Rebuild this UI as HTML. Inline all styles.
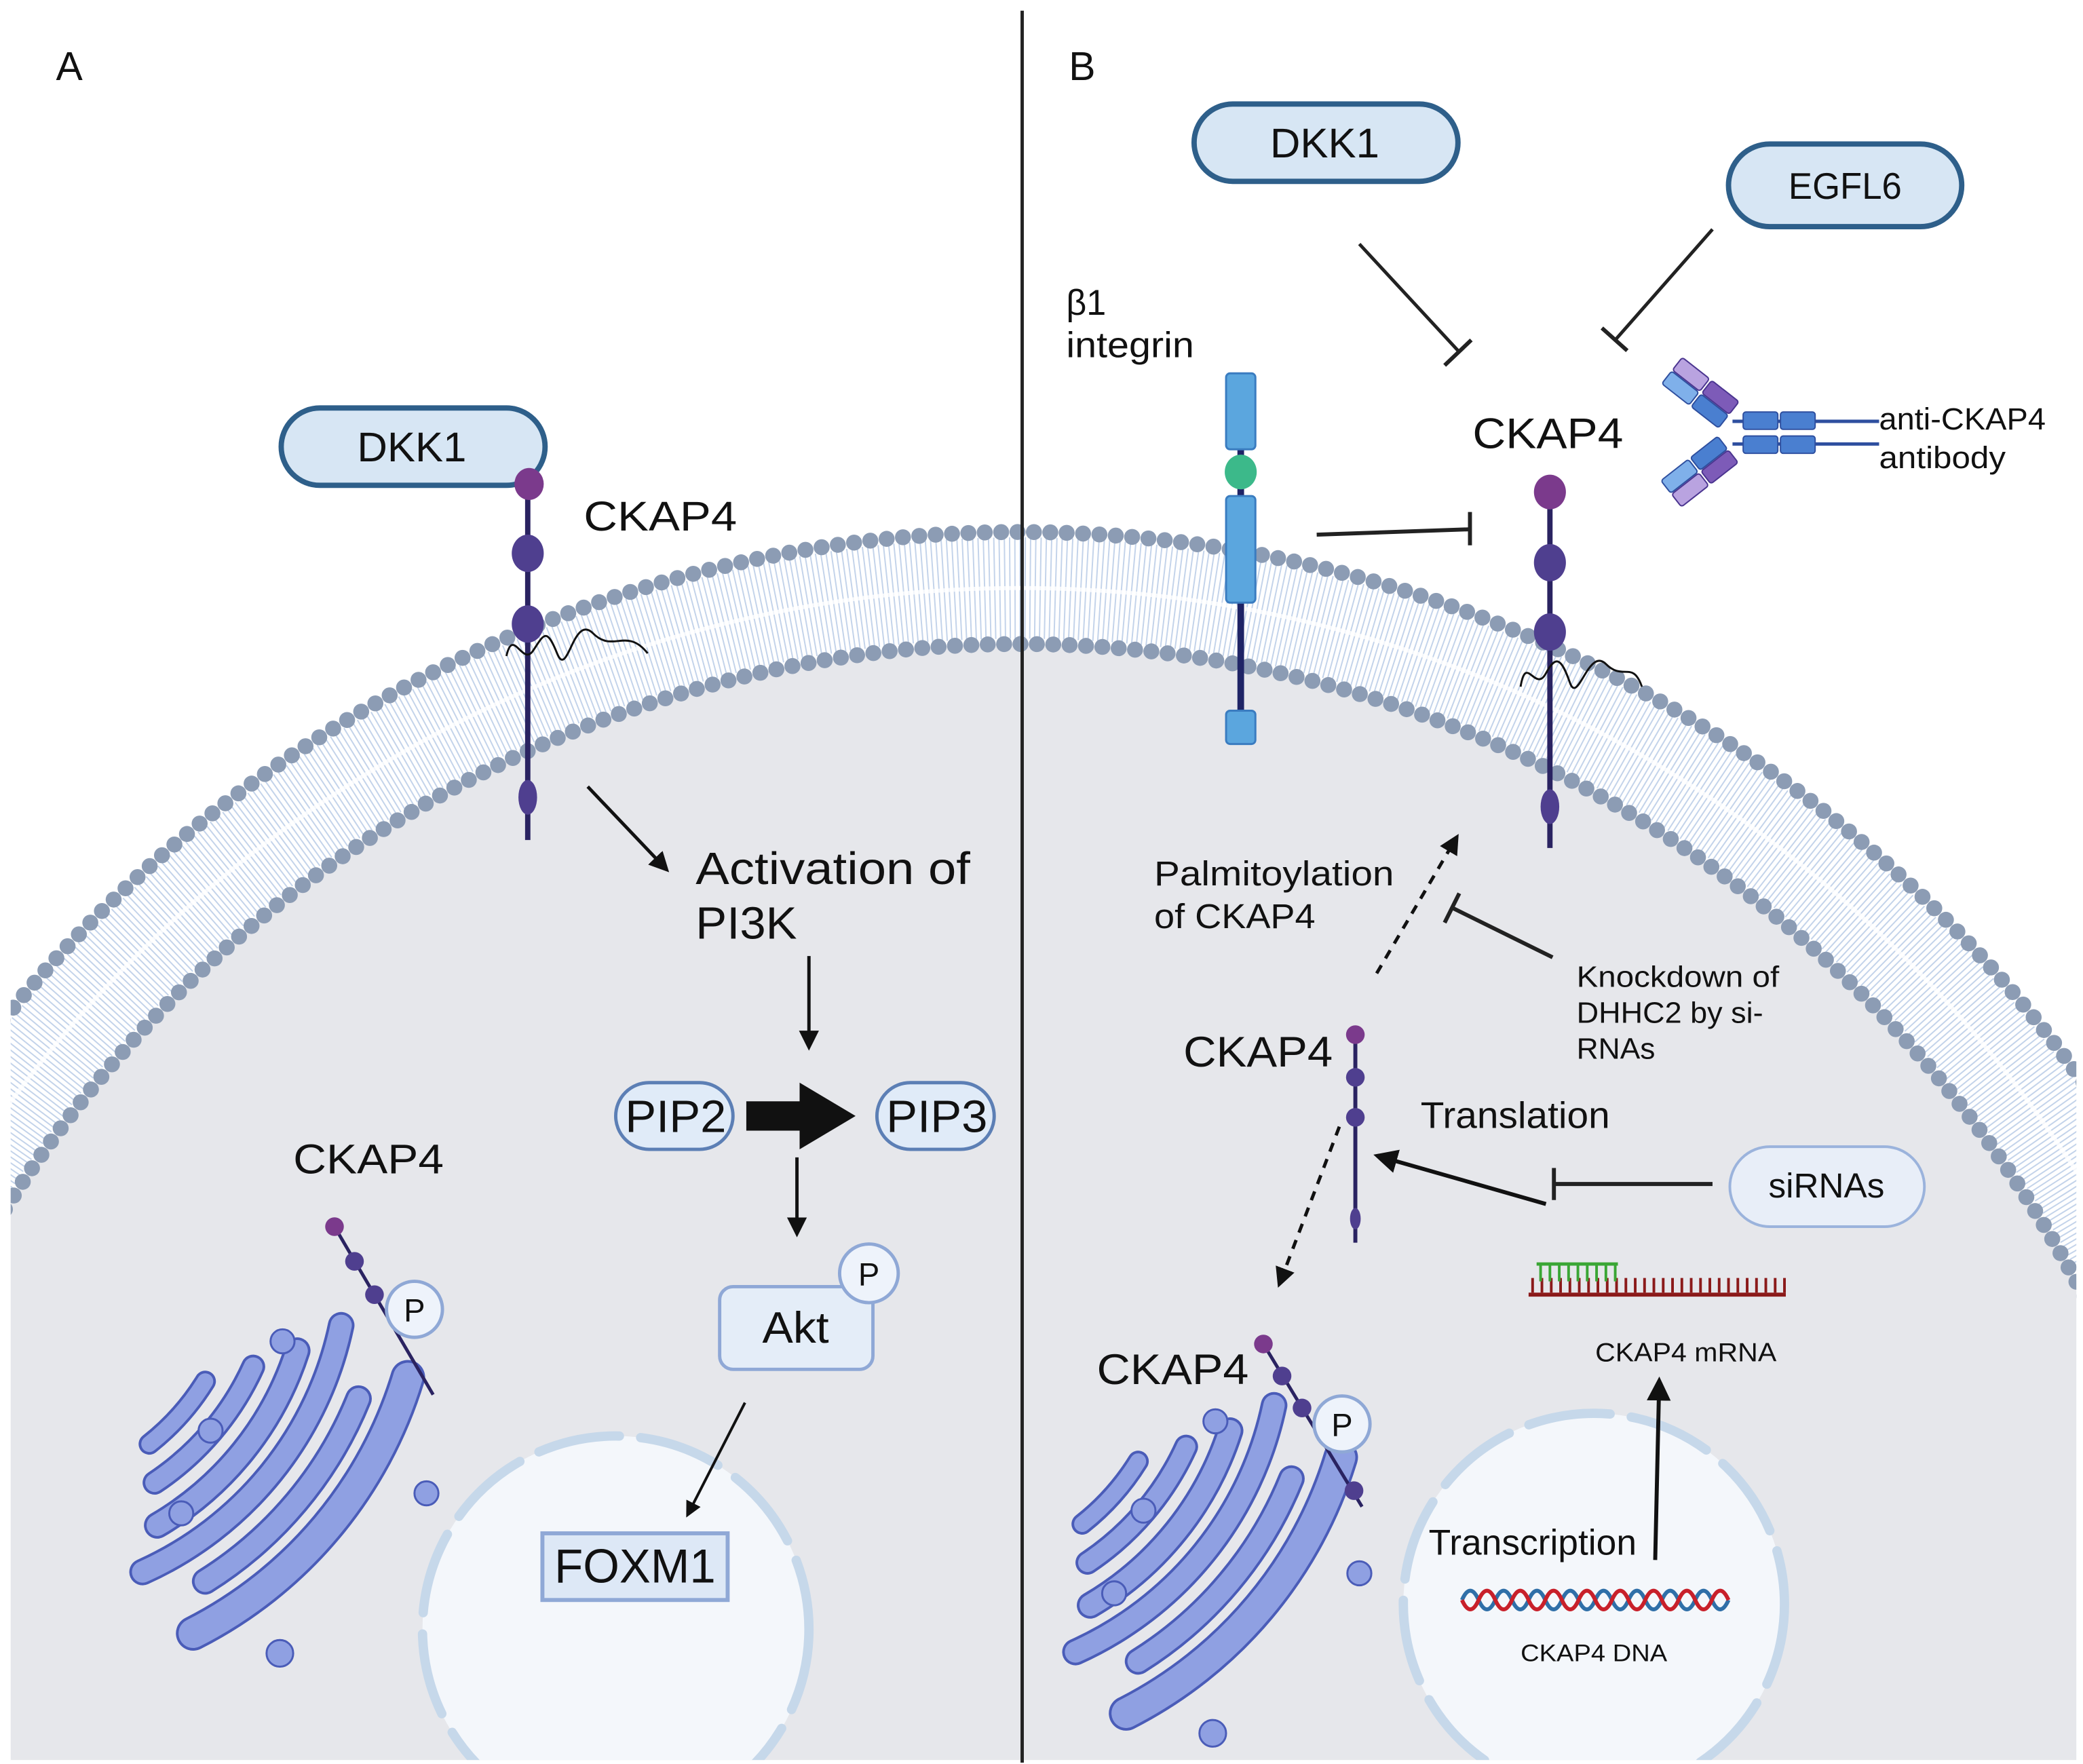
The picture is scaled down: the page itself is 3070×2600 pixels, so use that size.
<!DOCTYPE html>
<html><head><meta charset="utf-8"><style>
html,body{margin:0;padding:0;background:#fff;width:3070px;height:2600px;overflow:hidden;position:relative;}
svg{display:block;position:absolute;left:0;top:0;}
text{font-family:"Liberation Sans",Arial,sans-serif;fill:#111;}
</style></head><body>
<svg width="3070" height="2600" viewBox="0 0 1563 1323" preserveAspectRatio="none" xmlns="http://www.w3.org/2000/svg">
<defs>
<marker id="ah" viewBox="0 0 10 10" refX="8" refY="5" markerWidth="6" markerHeight="6" orient="auto"><path d="M0 0L10 5L0 10z" fill="#111"/></marker>
<clipPath id="cl"><rect x="8" y="0" width="1550" height="1320"/></clipPath>
<g id="golgi">
<g fill="none" stroke-linecap="round">
<path d="M854 1096A182 182 0 0 1 812 1143" stroke="#4a5cb8" stroke-width="16"/><path d="M854 1096A182 182 0 0 1 812 1143" stroke="#8fa0e2" stroke-width="12"/>
<path d="M890 1085A208 208 0 0 1 816 1172" stroke="#4a5cb8" stroke-width="18"/><path d="M890 1085A208 208 0 0 1 816 1172" stroke="#8fa0e2" stroke-width="14"/>
<path d="M923 1073A235 235 0 0 1 818 1204" stroke="#4a5cb8" stroke-width="20"/><path d="M923 1073A235 235 0 0 1 818 1204" stroke="#8fa0e2" stroke-width="16"/>
<path d="M956 1054A262 262 0 0 1 807 1239" stroke="#4a5cb8" stroke-width="20"/><path d="M956 1054A262 262 0 0 1 807 1239" stroke="#8fa0e2" stroke-width="16"/>
<path d="M969 1109A290 290 0 0 1 854 1246" stroke="#4a5cb8" stroke-width="20"/><path d="M969 1109A290 290 0 0 1 854 1246" stroke="#8fa0e2" stroke-width="16"/>
<path d="M1006 1093A320 320 0 0 1 845 1285" stroke="#4a5cb8" stroke-width="26"/><path d="M1006 1093A320 320 0 0 1 845 1285" stroke="#8fa0e2" stroke-width="22"/>
</g>
<g fill="#8fa0e2" stroke="#4a5cb8" stroke-width="1.5">
<circle cx="912" cy="1066" r="9"/><circle cx="858" cy="1133" r="9"/><circle cx="836" cy="1195" r="9"/><circle cx="1020" cy="1180" r="9"/><circle cx="910" cy="1300" r="10"/>
</g>
</g>
</defs>

<g clip-path="url(#cl)">
<ellipse cx="765" cy="1409" rx="906" ry="926" fill="#e6e7eb"/>
<ellipse cx="765" cy="1409" rx="948" ry="968" fill="none" stroke="#c3d3ea" stroke-width="76" stroke-dasharray="1 2.8"/>
<ellipse cx="765" cy="1409" rx="948" ry="968" fill="none" stroke="#ffffff" stroke-width="3" opacity="0.8"/>
<ellipse cx="765" cy="1409" rx="990" ry="1010" fill="none" stroke="#8c9cb4" stroke-width="12" stroke-dasharray="0 12.3" stroke-linecap="round"/>
<ellipse cx="765" cy="1409" rx="906" ry="926" fill="none" stroke="#8c9cb4" stroke-width="12" stroke-dasharray="0 12.3" stroke-linecap="round"/>
<circle cx="462" cy="1222" r="145" fill="#f4f7fb" stroke="#c6d8ea" stroke-width="7" stroke-dasharray="62 16" stroke-linecap="round"/>
<circle cx="1196" cy="1203" r="143" fill="#f4f7fb" stroke="#c6d8ea" stroke-width="7" stroke-dasharray="62 16" stroke-linecap="round"/>
</g>

<line x1="767" y1="8" x2="767" y2="1322" stroke="#222" stroke-width="2.5"/>

<!-- ===== Panel A ===== -->
<text x="42" y="60" font-size="30">A</text>
<rect x="211" y="306" width="198" height="58" rx="29" fill="#d7e6f4" stroke="#2e5f8a" stroke-width="4"/>
<text x="268" y="346" font-size="31" textLength="82" lengthAdjust="spacingAndGlyphs">DKK1</text>
<line x1="396" y1="360" x2="396" y2="630" stroke="#2a2361" stroke-width="4"/>
<ellipse cx="397" cy="363" rx="11" ry="12" fill="#7b3a8c"/>
<ellipse cx="396" cy="415" rx="12" ry="14" fill="#4f3f8f"/>
<ellipse cx="396" cy="468" rx="12" ry="14" fill="#4f3f8f"/>
<ellipse cx="396" cy="598" rx="7" ry="13" fill="#4f3f8f"/>
<path d="M380 492 C385 470 392 500 400 488 S410 470 418 490 S430 460 445 475 S470 470 486 490" fill="none" stroke="#111" stroke-width="1.5"/>
<text x="438" y="398" font-size="31" textLength="115" lengthAdjust="spacingAndGlyphs">CKAP4</text>
<line x1="441" y1="590" x2="500" y2="652" stroke="#111" stroke-width="2.5" marker-end="url(#ah)"/>
<text x="522" y="663" font-size="34" textLength="206" lengthAdjust="spacingAndGlyphs">Activation of</text>
<text x="522" y="704" font-size="34" textLength="76" lengthAdjust="spacingAndGlyphs">PI3K</text>
<line x1="607" y1="717" x2="607" y2="785" stroke="#111" stroke-width="2.5" marker-end="url(#ah)"/>
<rect x="462" y="812" width="88" height="50" rx="25" fill="#e0ebf8" stroke="#5c7fb5" stroke-width="2.5"/>
<text x="469" y="849" font-size="34" textLength="76" lengthAdjust="spacingAndGlyphs">PIP2</text>
<rect x="658" y="812" width="88" height="50" rx="25" fill="#e0ebf8" stroke="#5c7fb5" stroke-width="2.5"/>
<text x="665" y="849" font-size="34" textLength="76" lengthAdjust="spacingAndGlyphs">PIP3</text>
<path d="M560 826H600V812L642 837L600 862V848H560Z" fill="#111"/>
<line x1="598" y1="868" x2="598" y2="925" stroke="#111" stroke-width="2.5" marker-end="url(#ah)"/>
<rect x="540" y="965" width="115" height="62" rx="10" fill="#e4edf8" stroke="#8fa8d6" stroke-width="2.5"/>
<text x="572" y="1007" font-size="33" textLength="50" lengthAdjust="spacingAndGlyphs">Akt</text>
<circle cx="652" cy="955" r="22" fill="#eef3fb" stroke="#8fa8d6" stroke-width="2.5"/>
<text x="652" y="964" font-size="24" text-anchor="middle">P</text>
<line x1="559" y1="1052" x2="516" y2="1136" stroke="#111" stroke-width="2" marker-end="url(#ah)"/>
<rect x="407" y="1150" width="139" height="50" fill="#dde8f6" stroke="#8fa8d6" stroke-width="3"/>
<text x="416" y="1187" font-size="36" textLength="121" lengthAdjust="spacingAndGlyphs">FOXM1</text>
<text x="220" y="880" font-size="31" textLength="113" lengthAdjust="spacingAndGlyphs">CKAP4</text>
<use href="#golgi" transform="translate(-700,-60)"/>
<line x1="251" y1="920" x2="325" y2="1046" stroke="#2a2361" stroke-width="2.5"/>
<circle cx="251" cy="920" r="7" fill="#7b3a8c"/>
<circle cx="266" cy="946" r="7" fill="#4f3f8f"/>
<circle cx="281" cy="971" r="7" fill="#4f3f8f"/>
<circle cx="311" cy="982" r="21" fill="#eef3fb" stroke="#8fa8d6" stroke-width="2.5"/>
<text x="311" y="991" font-size="24" text-anchor="middle">P</text>

<!-- ===== Panel B ===== -->
<text x="802" y="60" font-size="30">B</text>
<rect x="896" y="78" width="198" height="58" rx="29" fill="#d7e6f4" stroke="#2e5f8a" stroke-width="4"/>
<text x="953" y="118" font-size="31" textLength="82" lengthAdjust="spacingAndGlyphs">DKK1</text>
<rect x="1297" y="108" width="175" height="62" rx="31" fill="#d7e6f4" stroke="#2e5f8a" stroke-width="4"/>
<text x="1342" y="149" font-size="28" textLength="85" lengthAdjust="spacingAndGlyphs">EGFL6</text>
<line x1="1020" y1="183" x2="1095" y2="264" stroke="#222" stroke-width="2.5"/>
<line x1="1084" y1="274" x2="1104" y2="255" stroke="#222" stroke-width="3"/>
<line x1="1285" y1="172" x2="1212" y2="255" stroke="#222" stroke-width="2.5"/>
<line x1="1202" y1="246" x2="1221" y2="263" stroke="#222" stroke-width="3"/>
<text x="800" y="236" font-size="27" textLength="30" lengthAdjust="spacingAndGlyphs">β1</text>
<text x="800" y="268" font-size="27" textLength="96" lengthAdjust="spacingAndGlyphs">integrin</text>
<line x1="931" y1="280" x2="931" y2="555" stroke="#1f2466" stroke-width="5"/>
<rect x="920" y="280" width="22" height="57" rx="3" fill="#5ba6de" stroke="#3a7cc0" stroke-width="1.5"/>
<ellipse cx="931" cy="354" rx="12" ry="13" fill="#3cb98a"/>
<rect x="920" y="372" width="22" height="80" rx="3" fill="#5ba6de" stroke="#3a7cc0" stroke-width="1.5"/>
<rect x="920" y="533" width="22" height="25" rx="3" fill="#5ba6de" stroke="#3a7cc0" stroke-width="1.5"/>
<line x1="988" y1="401" x2="1102" y2="397" stroke="#222" stroke-width="3"/>
<line x1="1103" y1="384" x2="1103" y2="409" stroke="#222" stroke-width="3"/>
<text x="1105" y="336" font-size="32" textLength="113" lengthAdjust="spacingAndGlyphs">CKAP4</text>
<line x1="1163" y1="370" x2="1163" y2="636" stroke="#2a2361" stroke-width="4"/>
<ellipse cx="1163" cy="369" rx="12" ry="13" fill="#7b3a8c"/>
<ellipse cx="1163" cy="422" rx="12" ry="14" fill="#4f3f8f"/>
<ellipse cx="1163" cy="474" rx="12" ry="14" fill="#4f3f8f"/>
<ellipse cx="1163" cy="605" rx="7" ry="13" fill="#4f3f8f"/>
<path d="M1141 515 C1145 490 1152 520 1160 505 S1172 495 1178 512 S1192 485 1205 498 S1225 495 1232 515" fill="none" stroke="#111" stroke-width="1.5"/>
<line x1="1300" y1="316" x2="1410" y2="316" stroke="#2e4f9f" stroke-width="2.5"/>
<line x1="1300" y1="333" x2="1410" y2="333" stroke="#2e4f9f" stroke-width="2.5"/>
<rect x="1308" y="309" width="26" height="13" rx="2" fill="#4a7fd0" stroke="#2e4f9f"/>
<rect x="1336" y="309" width="26" height="13" rx="2" fill="#4a7fd0" stroke="#2e4f9f"/>
<rect x="1308" y="327" width="26" height="13" rx="2" fill="#4a7fd0" stroke="#2e4f9f"/>
<rect x="1336" y="327" width="26" height="13" rx="2" fill="#4a7fd0" stroke="#2e4f9f"/>
<g transform="translate(1300,314) rotate(-142)">
<rect x="4" y="-12" width="26" height="12" rx="2" fill="#4a7fd0" stroke="#2e4f9f"/>
<rect x="32" y="-12" width="26" height="12" rx="2" fill="#7fb0ea" stroke="#2e4f9f"/>
<rect x="4" y="1" width="26" height="12" rx="2" fill="#7d5bb8" stroke="#4b3590"/>
<rect x="32" y="1" width="26" height="12" rx="2" fill="#b9a3e0" stroke="#4b3590"/>
</g>
<g transform="translate(1300,335) rotate(142)">
<rect x="4" y="1" width="26" height="12" rx="2" fill="#4a7fd0" stroke="#2e4f9f"/>
<rect x="32" y="1" width="26" height="12" rx="2" fill="#7fb0ea" stroke="#2e4f9f"/>
<rect x="4" y="-12" width="26" height="12" rx="2" fill="#7d5bb8" stroke="#4b3590"/>
<rect x="32" y="-12" width="26" height="12" rx="2" fill="#b9a3e0" stroke="#4b3590"/>
</g>
<text x="1410" y="322" font-size="23" textLength="125" lengthAdjust="spacingAndGlyphs">anti-CKAP4</text>
<text x="1410" y="351" font-size="23" textLength="95" lengthAdjust="spacingAndGlyphs">antibody</text>

<text x="866" y="664" font-size="26" textLength="180" lengthAdjust="spacingAndGlyphs">Palmitoylation</text>
<text x="866" y="696" font-size="26" textLength="121" lengthAdjust="spacingAndGlyphs">of CKAP4</text>
<line x1="1033" y1="730" x2="1093" y2="628" stroke="#111" stroke-width="2.5" stroke-dasharray="7 6" marker-end="url(#ah)"/>
<line x1="1165" y1="718" x2="1090" y2="681" stroke="#222" stroke-width="3"/>
<line x1="1084" y1="692" x2="1095" y2="670" stroke="#222" stroke-width="3"/>
<text x="1183" y="740" font-size="22" textLength="152" lengthAdjust="spacingAndGlyphs">Knockdown of</text>
<text x="1183" y="767" font-size="22" textLength="140" lengthAdjust="spacingAndGlyphs">DHHC2 by si-</text>
<text x="1183" y="794" font-size="22" textLength="59" lengthAdjust="spacingAndGlyphs">RNAs</text>
<text x="888" y="800" font-size="32" textLength="112" lengthAdjust="spacingAndGlyphs">CKAP4</text>
<line x1="1017" y1="776" x2="1017" y2="932" stroke="#2a2361" stroke-width="3"/>
<circle cx="1017" cy="776" r="7" fill="#7b3a8c"/>
<circle cx="1017" cy="808" r="7" fill="#4f3f8f"/>
<circle cx="1017" cy="838" r="7" fill="#4f3f8f"/>
<ellipse cx="1017" cy="914" rx="4" ry="8" fill="#4f3f8f"/>
<text x="1066" y="846" font-size="28" textLength="142" lengthAdjust="spacingAndGlyphs">Translation</text>
<line x1="1160" y1="903" x2="1034" y2="867" stroke="#111" stroke-width="3" marker-end="url(#ah)"/>
<line x1="1285" y1="888" x2="1166" y2="888" stroke="#222" stroke-width="3"/>
<line x1="1166" y1="876" x2="1166" y2="900" stroke="#222" stroke-width="3"/>
<rect x="1298" y="860" width="146" height="60" rx="30" fill="#e8eef8" stroke="#9bb3dc" stroke-width="2"/>
<text x="1327" y="898" font-size="26" textLength="87" lengthAdjust="spacingAndGlyphs">siRNAs</text>
<line x1="1147" y1="971" x2="1340" y2="971" stroke="#8b1a1a" stroke-width="3"/>
<line x1="1149" y1="964" x2="1340" y2="964" stroke="#8b1a1a" stroke-width="11" stroke-dasharray="2 5"/>
<line x1="1153" y1="948" x2="1214" y2="948" stroke="#3aa635" stroke-width="2.5"/>
<line x1="1155" y1="955" x2="1214" y2="955" stroke="#3aa635" stroke-width="12" stroke-dasharray="2 5"/>
<text x="1197" y="1021" font-size="20" textLength="136" lengthAdjust="spacingAndGlyphs">CKAP4 mRNA</text>
<line x1="1242" y1="1170" x2="1245" y2="1036" stroke="#111" stroke-width="3" marker-end="url(#ah)"/>
<line x1="1005" y1="845" x2="960" y2="963" stroke="#111" stroke-width="2.5" stroke-dasharray="7 6" marker-end="url(#ah)"/>
<text x="823" y="1038" font-size="32" textLength="114" lengthAdjust="spacingAndGlyphs">CKAP4</text>
<use href="#golgi"/>
<line x1="948" y1="1008" x2="1022" y2="1130" stroke="#2a2361" stroke-width="2.5"/>
<circle cx="948" cy="1008" r="7" fill="#7b3a8c"/>
<circle cx="962" cy="1032" r="7" fill="#4f3f8f"/>
<circle cx="977" cy="1056" r="7" fill="#4f3f8f"/>
<circle cx="1016" cy="1118" r="7" fill="#4f3f8f"/>
<circle cx="1007" cy="1068" r="21" fill="#eef3fb" stroke="#8fa8d6" stroke-width="2.5"/>
<text x="1007" y="1077" font-size="24" text-anchor="middle">P</text>
<text x="1072" y="1166" font-size="27" textLength="156" lengthAdjust="spacingAndGlyphs">Transcription</text>
<path d="M1097 1200 q6.25 -14 12.5 0 t12.5 0 t12.5 0 t12.5 0 t12.5 0 t12.5 0 t12.5 0 t12.5 0 t12.5 0 t12.5 0 t12.5 0 t12.5 0 t12.5 0 t12.5 0 t12.5 0 t12.5 0" fill="none" stroke="#2f6fa8" stroke-width="3"/>
<path d="M1097 1200 q6.25 14 12.5 0 t12.5 0 t12.5 0 t12.5 0 t12.5 0 t12.5 0 t12.5 0 t12.5 0 t12.5 0 t12.5 0 t12.5 0 t12.5 0 t12.5 0 t12.5 0 t12.5 0 t12.5 0" fill="none" stroke="#c8202a" stroke-width="3"/>
<text x="1141" y="1246" font-size="18" textLength="110" lengthAdjust="spacingAndGlyphs">CKAP4 DNA</text>
</svg>
</body></html>
